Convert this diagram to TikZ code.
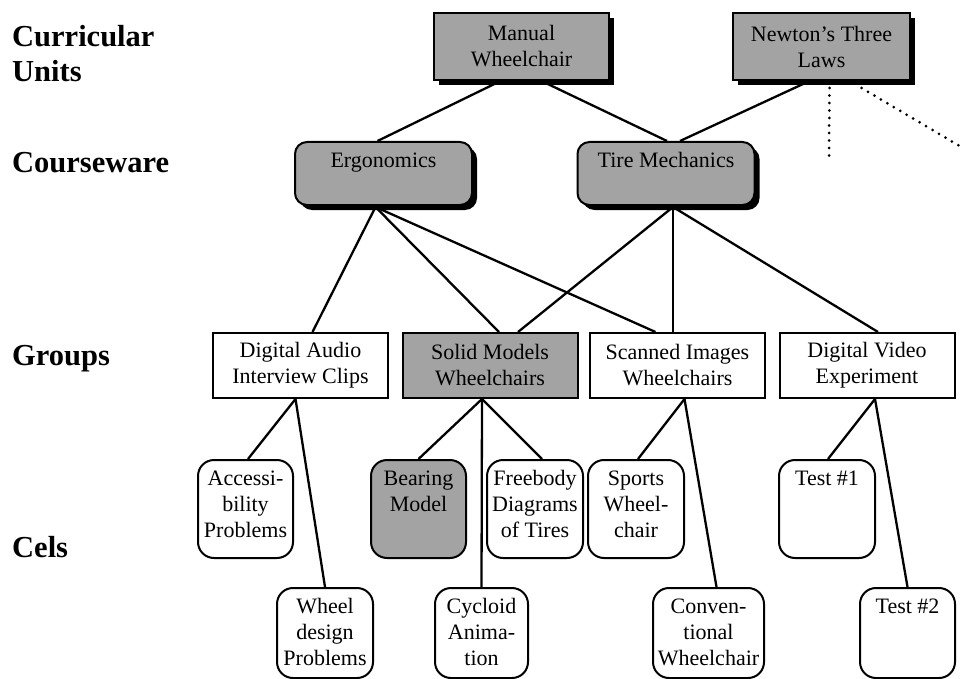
\documentclass[tikz,border=0pt]{standalone}
\usepackage{fontspec}
\setmainfont{Liberation Serif}
\usetikzlibrary{shadows}

\definecolor{shade}{gray}{0.64}
\newcommand{\boxfont}{\fontsize{22}{26}\selectfont}
% text hung from the top edge of a box of given width and height
\newcommand{\toptext}[3]{\parbox[c][#2pt][t]{#1pt}{\centering\vspace*{7pt}\strut #3}}

\tikzset{
  rowlabel/.style={anchor=base west, inner sep=0pt, font=\fontsize{30.5}{35}\selectfont\bfseries},
  box/.style={draw, line width=2pt, inner sep=0pt, align=center, font=\boxfont},
  solid shadow/.style={drop shadow={shadow xshift=5pt, shadow yshift=-5pt, opacity=1, fill=black}},
  unitbox/.style={box, fill=shade, minimum width=175pt, minimum height=67pt, solid shadow},
  coursebox/.style={box, fill=shade, rounded corners=12pt, solid shadow},
  groupbox/.style={box, minimum width=175pt, minimum height=65pt},
  celbox/.style={box, rounded corners=16pt},
  link/.style={line width=2.3pt},
  dotlink/.style={line width=3pt, line cap=round, dash pattern=on 0pt off 7.5pt}
}

\begin{document}
\begin{tikzpicture}[x=1pt, y=-1pt]
\fill[white] (0,0) rectangle (963,679);
\useasboundingbox (0,0) rectangle (963,679);

% level names
\node[rowlabel] (lcu1) at (12,47) {Curricular};
\node[rowlabel] (lcu2) at (12,82) {Units};
\node[rowlabel] (lcw) at (12,173) {Courseware};
\node[rowlabel] (lgr) at (12,365) {Groups};
\node[rowlabel] (lce) at (12,557) {Cels};

% curricular units
\node[unitbox] (mw) at (521.5,46.5) {Manual\\Wheelchair};
\node[unitbox, minimum width=177pt] (nl) at (821.5,46.5) {Newton's Three\\Laws};

% courseware
\node[coursebox] (erg) at (383.5,173.5) {\toptext{177}{63}{Ergonomics}};
\node[coursebox] (tire) at (666,173.5) {\toptext{177}{63}{Tire Mechanics}};

% groups
\node[groupbox] (da) at (300.5,365.5) {Digital Audio\\Interview Clips};
\node[groupbox, fill=shade] (sm) at (490,365.5) {Solid Models\\Wheelchairs};
\node[groupbox] (sc) at (677.5,365.5) {Scanned Images\\Wheelchairs};
\node[groupbox] (dv) at (867,365.5) {Digital Video\\Experiment};

% cels, upper row
\node[celbox] (acc) at (245.5,509) {\toptext{95}{98}{Accessi-\\bility\\Problems}};
\node[celbox, fill=shade] (bear) at (418.5,509) {\toptext{95}{98}{Bearing\\Model}};
\node[celbox] (free) at (535,509) {\toptext{96}{98}{Freebody\\Diagrams\\of Tires}};
\node[celbox] (sport) at (636,509) {\toptext{96}{98}{Sports\\Wheel-\\chair}};
\node[celbox] (t1) at (827,509) {\toptext{96}{98}{Test \#1}};

% cels, lower row
\node[celbox] (wheel) at (325,633) {\toptext{96}{90}{Wheel\\design\\Problems}};
\node[celbox] (cyc) at (481.5,633) {\toptext{93}{90}{Cycloid\\Anima-\\tion}};
\node[celbox] (conv) at (708.5,633) {\toptext{111}{90}{Conven-\\tional\\Wheelchair}};
\node[celbox] (t2) at (907.5,633) {\toptext{95}{90}{Test \#2}};

% units to courseware
\draw[link] ([xshift=-21pt]mw.south) -- ([xshift=-6pt]erg.north);
\draw[link] ([xshift=20pt]mw.south) -- ([xshift=1pt]tire.north);
\draw[link] ([xshift=-12pt]nl.south) -- ([xshift=14pt]tire.north);

% further links leaving the Newton unit
\coordinate (nd1) at (829,157);
\coordinate (nd2) at (963,148);
\draw[dotlink] ([xshift=8pt,yshift=-7pt]nl.south) -- (nd1);
\draw[dotlink] ([xshift=40pt,yshift=-7pt]nl.south) -- (nd2);

% courseware to groups
\draw[link] ([xshift=-8pt,yshift=-1pt]erg.south) -- ([xshift=12pt]da.north);
\draw[link] ([xshift=-8pt,yshift=-1pt]erg.south) -- ([xshift=9pt]sm.north);
\draw[link] ([xshift=-8pt,yshift=-1pt]erg.south) -- ([xshift=-22pt]sc.north);
\draw[link] ([xshift=7pt,yshift=-1pt]tire.south) -- ([xshift=28pt]sm.north);
\draw[link] ([xshift=7pt,yshift=-1pt]tire.south) -- ([xshift=-4.5pt]sc.north);
\draw[link] ([xshift=7pt,yshift=-1pt]tire.south) -- ([xshift=11pt]dv.north);

% groups to cels
\draw[link] ([xshift=-5pt]da.south) -- ([xshift=2.5pt]acc.north);
\draw[link] ([xshift=-5pt]da.south) -- (wheel.north);
\draw[link] ([xshift=-8pt]sm.south) -- (bear.north);
\draw[link] ([xshift=-8pt]sm.south) -- (cyc.north);
\draw[link] ([xshift=-8pt]sm.south) -- ([xshift=7pt]free.north);
\draw[link] ([xshift=7pt]sc.south) -- ([xshift=2pt]sport.north);
\draw[link] ([xshift=7pt]sc.south) -- ([xshift=8pt]conv.north);
\draw[link] ([xshift=8pt]dv.south) -- ([xshift=1pt]t1.north);
\draw[link] ([xshift=8pt]dv.south) -- (t2.north);
\end{tikzpicture}
\end{document}
